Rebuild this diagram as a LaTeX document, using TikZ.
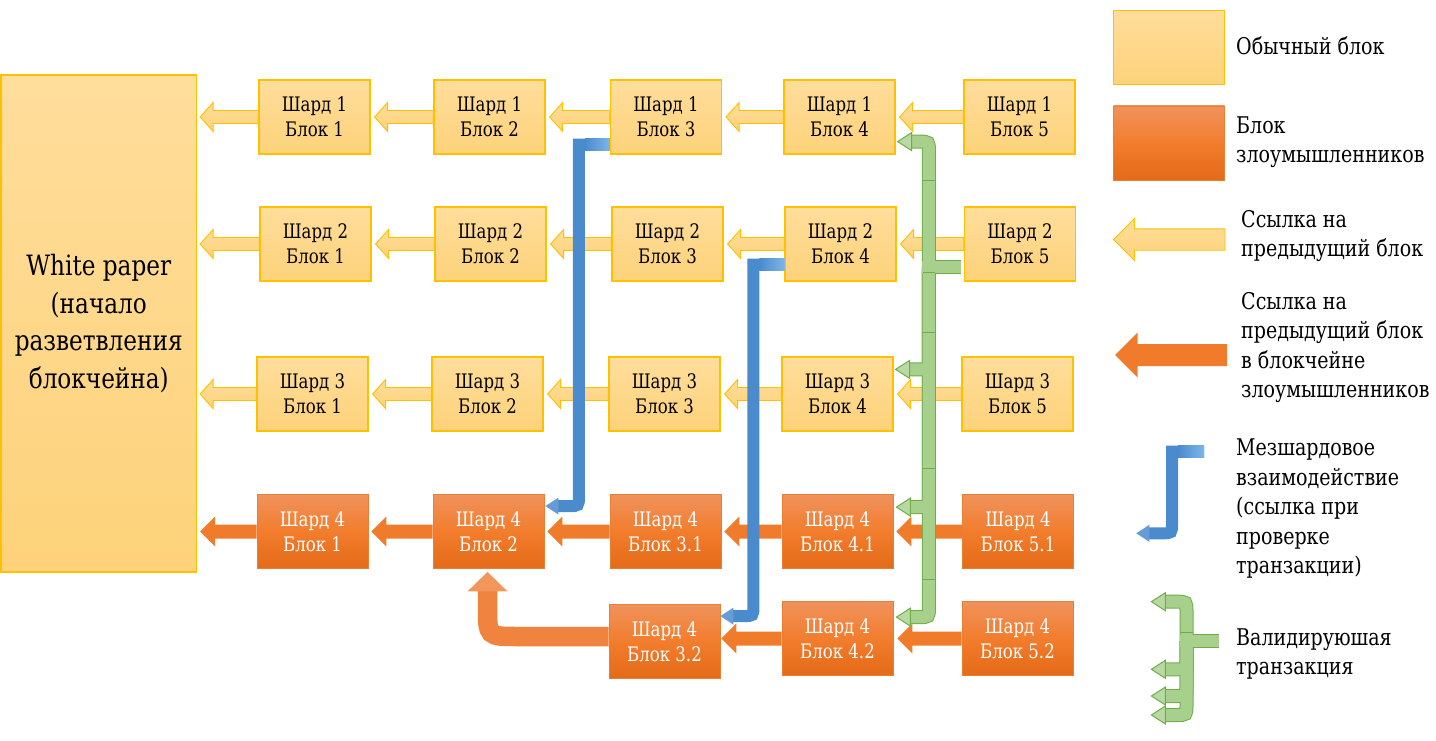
\documentclass[tikz,border=0pt]{standalone}
\usepackage{fontspec}
\setmainfont{DejaVu Serif Condensed}[FakeStretch=0.92]
\usetikzlibrary{calc}
\definecolor{ygold}{HTML}{FFC000}
\definecolor{ytop}{HTML}{FFDD9B}
\definecolor{ybot}{HTML}{FDD27A}
\definecolor{otop}{HTML}{F0925C}
\definecolor{omid}{HTML}{F27D2D}
\definecolor{obot}{HTML}{E36A18}
\definecolor{oedge}{HTML}{ED7D31}
\definecolor{oarrow}{HTML}{F07B2B}
\definecolor{outurn}{HTML}{F0843F}
\definecolor{bl}{HTML}{4A8BCE}
\definecolor{bllight}{HTML}{7FB5E8}
\definecolor{gfill}{HTML}{A8D08D}
\definecolor{gedge}{HTML}{70AD47}
% block arrow pointing left: style, tail, tip, half shaft, half head, head length
\newcommand\blockarrow[6]{%
  \path[#1] let \p1=#2, \p2=#3 in
    (\x1,\y1+#4) -- (\x2+#6,\y1+#4) -- (\x2+#6,\y1+#5) -- (\x2,\y1)
    -- (\x2+#6,\y1-#5) -- (\x2+#6,\y1-#4) -- (\x1,\y1-#4) -- cycle;}
% arrow head pointing left: style, tip, half head, length
\newcommand\headL[4]{\path[#1] #2 -- ++(#4,#3) -- ++(0,-2*#3) -- cycle;}
\begin{document}
\begin{tikzpicture}[x=1pt,y=-1pt,
  box/.style={minimum width=111pt, minimum height=74pt, inner sep=0pt, align=center,
              font=\fontsize{20}{25}\selectfont},
  ybox/.style={box, draw=ygold, line width=1.2pt, top color=ytop, bottom color=ybot},
  obox/.style={box, draw=oedge, line width=0.8pt, top color=otop, bottom color=obot, middle color=omid, text=white},
  wpbox/.style={draw=ygold, line width=1.2pt, top color=ytop, bottom color=ybot,
              minimum width=195.5pt, minimum height=497pt, inner sep=0pt, align=center,
              font=\fontsize{28}{37.5}\selectfont},
  yarr/.style={draw=ygold, line width=0.9pt, top color=ytop, bottom color=ybot},
  oarr/.style={fill=oarrow},
  legtext/.style={anchor=west, align=left, inner sep=0pt, font=\fontsize{23}{29.5}\selectfont},
  bluepipe/.style={draw=bl, line width=12pt, line join=miter},
  bluehead/.style={fill=bl!85!white},
  gout/.style={draw=gedge, line width=14pt},
  gin/.style={draw=gfill, line width=12pt},
  ghead/.style={fill=gfill!80!white, draw=gedge, line width=1pt},
  gseg/.style={draw=gedge, line width=0.8pt},
]
\fill[white] (0,0) rectangle (1436,741);
\useasboundingbox (0,0) rectangle (1436,741);

% ---------- boxes ----------
\node[wpbox] (wp) at (98.75,323.5) {White paper\\(начало\\разветвления\\блокчейна)};

\node[ybox] (b11) at (314.5,117) {Шард 1\\Блок 1};
\node[ybox] (b12) at (489.5,117) {Шард 1\\Блок 2};
\node[ybox] (b13) at (666,117) {Шард 1\\Блок 3};
\node[ybox] (b14) at (839.5,117) {Шард 1\\Блок 4};
\node[ybox] (b15) at (1019.5,117) {Шард 1\\Блок 5};

\node[ybox] (b21) at (315.5,244) {Шард 2\\Блок 1};
\node[ybox] (b22) at (490.5,244) {Шард 2\\Блок 2};
\node[ybox] (b23) at (667.5,244) {Шард 2\\Блок 3};
\node[ybox] (b24) at (840.5,244) {Шард 2\\Блок 4};
\node[ybox] (b25) at (1020,244) {Шард 2\\Блок 5};

\node[ybox] (b31) at (312.5,394) {Шард 3\\Блок 1};
\node[ybox] (b32) at (487.5,394) {Шард 3\\Блок 2};
\node[ybox] (b33) at (664.5,394) {Шард 3\\Блок 3};
\node[ybox] (b34) at (837.5,394) {Шард 3\\Блок 4};
\node[ybox] (b35) at (1017.5,394) {Шард 3\\Блок 5};

\node[obox] (b41) at (312.5,531.5) {Шард 4\\Блок 1};
\node[obox] (b42) at (488.5,531.5) {Шард 4\\Блок 2};
\node[obox] (b43) at (665.5,531.5) {Шард 4\\Блок 3.1};
\node[obox] (b44) at (837.5,531.5) {Шард 4\\Блок 4.1};
\node[obox] (b45) at (1018,531.5) {Шард 4\\Блок 5.1};

\node[obox] (b53) at (664.5,641.5) {Шард 4\\Блок 3.2};
\node[obox] (b54) at (837.5,638.5) {Шард 4\\Блок 4.2};
\node[obox] (b55) at (1017.5,638.5) {Шард 4\\Блок 5.2};

% ---------- chain arrows ----------
\foreach \r in {1,2,3}{
  \blockarrow{yarr}{(b\r1.west)}{($(wp.east)+(3,0)$)}{6.5pt}{14.5pt}{13pt}
  \foreach \cc/\qq in {2/1,3/2,4/3,5/4}{
    \blockarrow{yarr}{(b\r\cc.west)}{($(b\r\qq.east)+(4,0)$)}{6.5pt}{14.5pt}{13pt}}
}
\blockarrow{oarr}{(b41.west)}{($(wp.east)+(3,0)$)}{7pt}{15pt}{15pt}
\foreach \cc/\qq in {2/1,3/2,4/3,5/4}{
  \blockarrow{oarr}{(b4\cc.west)}{($(b4\qq.east)+(3,0)$)}{7pt}{15pt}{15pt}}
\blockarrow{oarr}{(b55.west)}{($(b54.east)+(4,0)$)}{7pt}{15pt}{15pt}
\blockarrow{oarr}{(b54.west)}{($(b53.east)+(1,0)$)}{7pt}{15pt}{15pt}

% ---------- orange U-turn: 3.2 -> 2 ----------
\coordinate (us) at ($(b53.west)+(0,-5)$);
\coordinate (ut) at ($(b42.south)+(-1,3)$);
\coordinate (uk) at (ut|-us);
\draw[outurn, line width=19.5pt] (us) -- ($(uk)+(30,0)$) .. controls (uk) .. ($(uk)+(0,-30)$) -- ($(ut)+(0,18)$);
\path[fill=outurn!85!white] (ut) -- ++(-20,19.5) -- ++(40,0) -- cycle;

% ---------- blue cross-shard links ----------
\coordinate (bs1) at ($(b13.south west)+(0,-10)$);
\coordinate (bc1) at ($(bs1)+(-31,0)$);
\coordinate (bt1) at ($(b42.north east)+(1,12)$);
\coordinate (bk1) at (bc1|-bt1);
\draw[bluepipe] (bs1) -- (bc1) -- ($(bk1)+(0,-10)$) .. controls (bk1) .. ($(bk1)+(-10,0)$) -- ($(bt1)+(12,0)$);
\shade[left color=bl, right color=bllight] ($(bc1)+(6,-6)$) rectangle ($(bs1)+(0,6)$);
\headL{bluehead}{(bt1)}{8.5}{13}

\coordinate (bs2) at ($(b24.south west)+(0,-17)$);
\coordinate (bc2) at ($(bs2)+(-31,0)$);
\coordinate (bt2) at ($(b53.north east)+(0,12)$);
\coordinate (bk2) at (bc2|-bt2);
\draw[bluepipe] (bs2) -- (bc2) -- ($(bk2)+(0,-10)$) .. controls (bk2) .. ($(bk2)+(-10,0)$) -- ($(bt2)+(12,0)$);
\shade[left color=bl, right color=bllight] ($(bc2)+(6,-6)$) rectangle ($(bs2)+(0,6)$);
\headL{bluehead}{(bt2)}{8.5}{13}

% ---------- green validating transaction ----------
\coordinate (gj) at ($(b25.south west)+(-35,-15)$);
\coordinate (gtail) at ($(b25.south west)+(-3,-15)$);
\coordinate (gt1) at ($(b14.south east)+(2,-13)$);
\coordinate (gt3) at ($(b34.north east)+(2,13)$);
\coordinate (gt4) at ($(b44.north east)+(3,13)$);
\coordinate (gt5) at ($(b54.north east)+(3,16)$);
\coordinate (gk1) at (gj|-gt1);
\coordinate (gk3) at (gj|-gt3);
\coordinate (gk4) at (gj|-gt4);
\coordinate (gk5) at (gj|-gt5);
\foreach \s in {gout,gin}{
  \draw[\s] (gtail) -- ($(gj)+(-7,0)$);
  \draw[\s] (gj) -- ($(gk1)+(0,10)$) .. controls (gk1) .. ($(gk1)+(-10,0)$) -- ($(gt1)+(12,0)$);
  \foreach \k in {3,4,5}{
    \draw[\s] (gj) -- ($(gk\k)+(0,-10)$) .. controls (gk\k) .. ($(gk\k)+(-10,0)$) -- ($(gt\k)+(12,0)$);}
}
\foreach \k in {1,3,4,5}{\headL{ghead}{(gt\k)}{9}{14}}
\foreach \d in {-86,6,66,202,313}{\draw[gseg] ($(gj)+(-6,\d)$) -- ($(gj)+(6,\d)$);}

% ---------- legend ----------
\node[ybox] (lyb) at (1169,47.5) {};
\node[legtext] (lt1) at (1236,46) {Обычный блок};
\node[obox] (lob) at (1169,143) {};
\node[legtext] (lt2) at (1236,142) {Блок\\злоумышленников};

\coordinate (lya) at (1225,239.5);
\coordinate (lyt) at (1113.5,239.5);
\blockarrow{yarr}{(lya)}{(lyt)}{10.7pt}{21pt}{21pt}
\node[legtext] (lt3) at (1241,236) {Ссылка на\\предыдущий блок};

\coordinate (loa) at (1227,355);
\coordinate (lot) at (1115,355);
\blockarrow{oarr}{(loa)}{(lot)}{11pt}{22.5pt}{22.5pt}
\node[legtext] (lt4) at (1241,347.5) {Ссылка на\\предыдущий блок\\в блокчейне\\злоумышленников};

\coordinate (lbs) at (1204,451.7);
\coordinate (lbc) at (1172,451.7);
\coordinate (lbt) at (1136.3,533.3);
\coordinate (lbk) at (lbc|-lbt);
\draw[bluepipe] (lbs) -- (lbc) -- ($(lbk)+(0,-10)$) .. controls (lbk) .. ($(lbk)+(-10,0)$) -- ($(lbt)+(12,0)$);
\shade[left color=bl, right color=bllight] ($(lbc)+(6,-6)$) rectangle ($(lbs)+(0,6)$);
\headL{bluehead}{(lbt)}{8.5}{13}
\node[legtext] (lt5) at (1236,509) {Мезшардовое\\взаимодействие\\(ссылка при\\проверке\\транзакции)};

\coordinate (lgj) at (1186.5,641);
\coordinate (lgtail) at (1219.3,641);
\coordinate (lg1) at (1151.4,601.7);
\coordinate (lg2) at (1151.4,669.3);
\coordinate (lg3) at (1151.4,696);
\coordinate (lg4) at (1151.4,715);
\coordinate (lgk1) at (lgj|-lg1);
\coordinate (lgk2) at (lgj|-lg2);
\coordinate (lgk3) at (lgj|-lg3);
\coordinate (lgk4) at (lgj|-lg4);
\foreach \s in {gout,gin}{
  \draw[\s] (lgtail) -- ($(lgj)+(-7,0)$);
  \draw[\s] (lgj) -- ($(lgk1)+(0,10)$) .. controls (lgk1) .. ($(lgk1)+(-10,0)$) -- ($(lg1)+(12,0)$);
  \foreach \k in {2,3,4}{
    \draw[\s] (lgj) -- ($(lgk\k)+(0,-10)$) .. controls (lgk\k) .. ($(lgk\k)+(-10,0)$) -- ($(lg\k)+(12,0)$);}
}
\foreach \k in {1,2,3,4}{\headL{ghead}{(lg\k)}{9}{14}}
\draw[gseg] ($(lgj)+(-6,-9)$) -- ($(lgj)+(6,-9)$);
\node[legtext] (lt6) at (1236,654) {Валидируюшая\\транзакция};
\end{tikzpicture}
\end{document}
